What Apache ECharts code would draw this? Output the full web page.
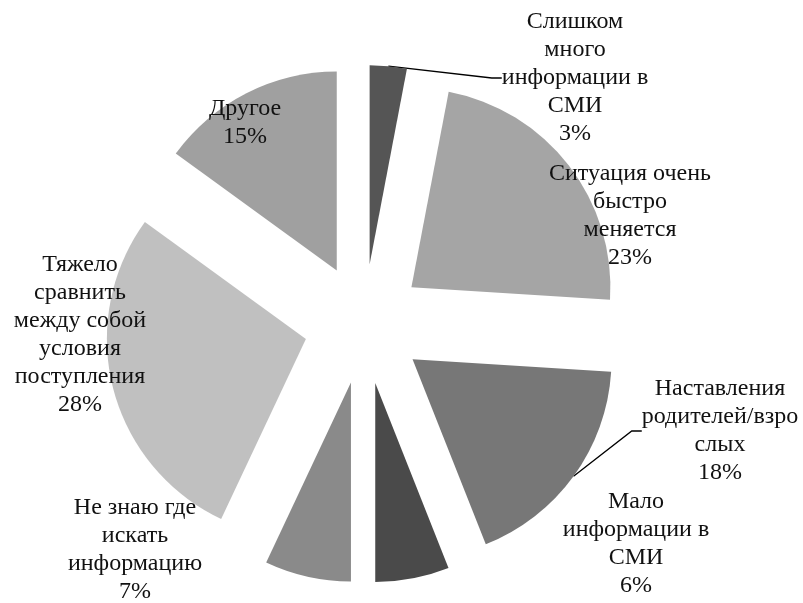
<!DOCTYPE html>
<html>
<head>
<meta charset="utf-8">
<script src="https://cdn.jsdelivr.net/npm/echarts@6/dist/echarts.min.js"></script>
<style>
  html, body { margin: 0; padding: 0; background: #fff; }
  #main { width: 803px; height: 603px; }
</style>
</head>
<body>
<div id="main"></div>
<script>
// категории (с переносами как в подписях) и доли в процентах
var categories = [
    'Слишком\nмного\nинформации в\nСМИ',
    'Ситуация очень\nбыстро\nменяется',
    'Наставления\nродителей/взро\nслых',
    'Мало\nинформации в\nСМИ',
    'Не знаю где\nискать\nинформацию',
    'Тяжело\nсравнить\nмежду собой\nусловия\nпоступления',
    'Другое'
];
var values = [3, 23, 18, 6, 7, 28, 15];

var colors = ['#555555', '#a5a5a5', '#777777', '#4a4a4a', '#8a8a8a', '#c0c0c0', '#a0a0a0'];
// где стоят подписи (центр блока текста)
var labelPos = [[575, 78], [630, 216], [720, 431], [636, 544], [135, 550], [80, 335], [245, 123]];
var withLine = [true, false, true, false, false, false, false];

var cx = 364, cy = 324, R = 199, explode = 60;

var myChart = echarts.init(document.getElementById('main'));

// каждый сектор - отдельная серия, центр сдвинут вдоль середины сектора ("взорванный" пирог)
var total = values.reduce(function (a, b) { return a + b; }, 0);
var acc = 0;
var series = values.map(function (v, i) {
    var mid = (acc + v / 2) / total * 2 * Math.PI;
    acc += v;
    return {
        type: 'pie',
        center: [cx + explode * Math.sin(mid), cy - explode * Math.cos(mid)],
        radius: R,
        startAngle: 90,
        clockwise: true,
        avoidLabelOverlap: false,
        silent: true,
        emphasis: { disabled: true },
        itemStyle: { borderWidth: 0 },
        label: {
            position: 'outside',
            fontFamily: 'Liberation Serif',
            fontSize: 24,
            lineHeight: 28,
            color: '#111',
            formatter: function (p) {
                return p.name + '\n' + Math.round(p.percent) + '%';
            }
        },
        labelLine: {
            length: 20,
            length2: 10,
            lineStyle: { color: '#000', width: 1.3 }
        },
        labelLayout: function (p) {
            var pos = labelPos[p.dataIndex];
            return { x: pos[0], y: pos[1], align: 'center', verticalAlign: 'middle' };
        },
        data: categories.map(function (name, j) {
            return {
                name: name,
                value: values[j],
                itemStyle: { color: j === i ? colors[j] : 'rgba(0,0,0,0)' },
                label: { show: j === i },
                labelLine: { show: j === i && withLine[j] }
            };
        })
    };
});

myChart.setOption({
    backgroundColor: '#fff',
    animation: false,
    series: series
});
</script>
</body>
</html>
